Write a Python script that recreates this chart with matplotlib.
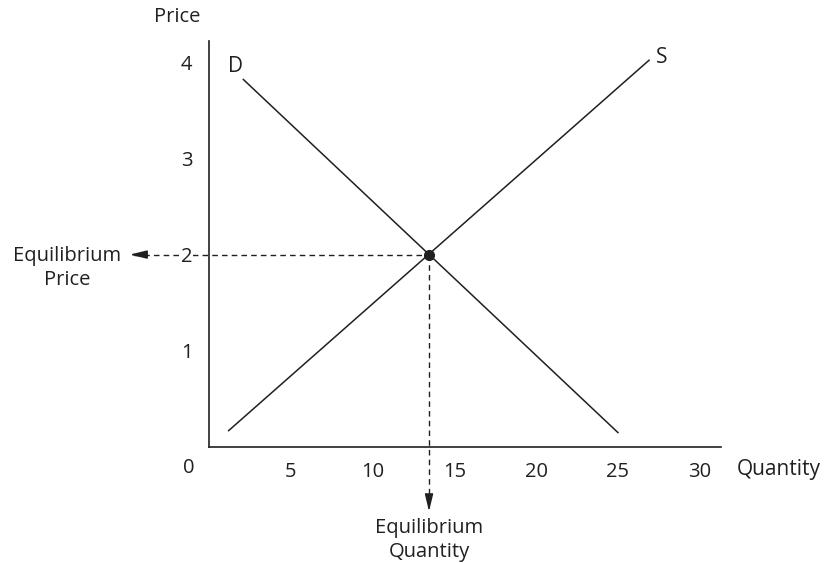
import matplotlib.pyplot as plt

plt.rcParams['font.family'] = ['Open Sans', 'DejaVu Sans']

# demand and supply end points (quantity, price)
demand_q = [2.1, 25.0]
demand_p = [3.82, 0.15]
supply_q = [1.2, 26.9]
supply_p = [0.17, 4.02]

eq_q = 13.45
eq_p = 2.0

x_ticks = [5, 10, 15, 20, 25, 30]
y_ticks = [1, 2, 3, 4]

ink = '#231f20'
fs = 14.5

fig = plt.figure(figsize=(8.27, 5.63), dpi=100)
ax = fig.add_axes([209 / 827, 1 - 447 / 563, (721 - 209) / 827, (447 - 41) / 563])
ax.set_xlim(0, 31.3)
ax.set_ylim(0, 4.22)

for s in ['top', 'right']:
    ax.spines[s].set_visible(False)
for s in ['left', 'bottom']:
    ax.spines[s].set_color(ink)
    ax.spines[s].set_linewidth(1.2)

ax.tick_params(length=0, labelsize=fs, colors=ink)
ax.tick_params(axis='x', pad=11)
ax.tick_params(axis='y', pad=12)
ax.set_xticks(x_ticks)
ax.set_yticks(y_ticks)
ax.get_yticklabels()[1].set_bbox(dict(facecolor='white', edgecolor='none', pad=0.3))

ax.plot(demand_q, demand_p, color=ink, lw=1.1)
ax.plot(supply_q, supply_p, color=ink, lw=1.1)

# dashed guides out to the labels
ax.plot([-4.6, eq_q], [eq_p, eq_p], color=ink, lw=1, ls=(0, (4, 3)), clip_on=False, zorder=1)
ax.plot([eq_q, eq_q], [eq_p, -0.55], color=ink, lw=1, ls=(0, (4, 3)), clip_on=False, zorder=1)
head = '-|>,head_length=0.75,head_width=0.18'
ax.annotate('', xy=(-4.85, eq_p), xytext=(-4.2, eq_p), annotation_clip=False,
            arrowprops=dict(arrowstyle=head, color=ink, lw=1, mutation_scale=14,
                            shrinkA=0, shrinkB=0))
ax.annotate('', xy=(eq_q, -0.67), xytext=(eq_q, -0.5), annotation_clip=False,
            arrowprops=dict(arrowstyle=head, color=ink, lw=1, mutation_scale=14,
                            shrinkA=0, shrinkB=0))

ax.plot([eq_q], [eq_p], 'o', color=ink, ms=7, zorder=5)

ax.text(1.65, 3.95, 'D', fontsize=fs + 0.5, color=ink, ha='center', va='center')
ax.text(27.7, 4.05, 'S', fontsize=fs + 0.5, color=ink, ha='center', va='center')

fig.text(177 / 827, 1 - 17 / 563, 'Price', fontsize=fs, color=ink, ha='center', va='center')
fig.text(189 / 827, 1 - 468 / 563, '0', fontsize=fs, color=ink, ha='center', va='center')
fig.text(779 / 827, 1 - 469 / 563, 'Quantity', fontsize=fs + 0.5, color=ink, ha='center', va='center')
fig.text(67 / 827, 1 - 268 / 563, 'Equilibrium\nPrice', fontsize=fs, color=ink,
         ha='center', va='center', linespacing=1.3)
fig.text(429 / 827, 1 - 540 / 563, 'Equilibrium\nQuantity', fontsize=fs, color=ink,
         ha='center', va='center', linespacing=1.2)

fig.savefig('out.png', dpi=100)
